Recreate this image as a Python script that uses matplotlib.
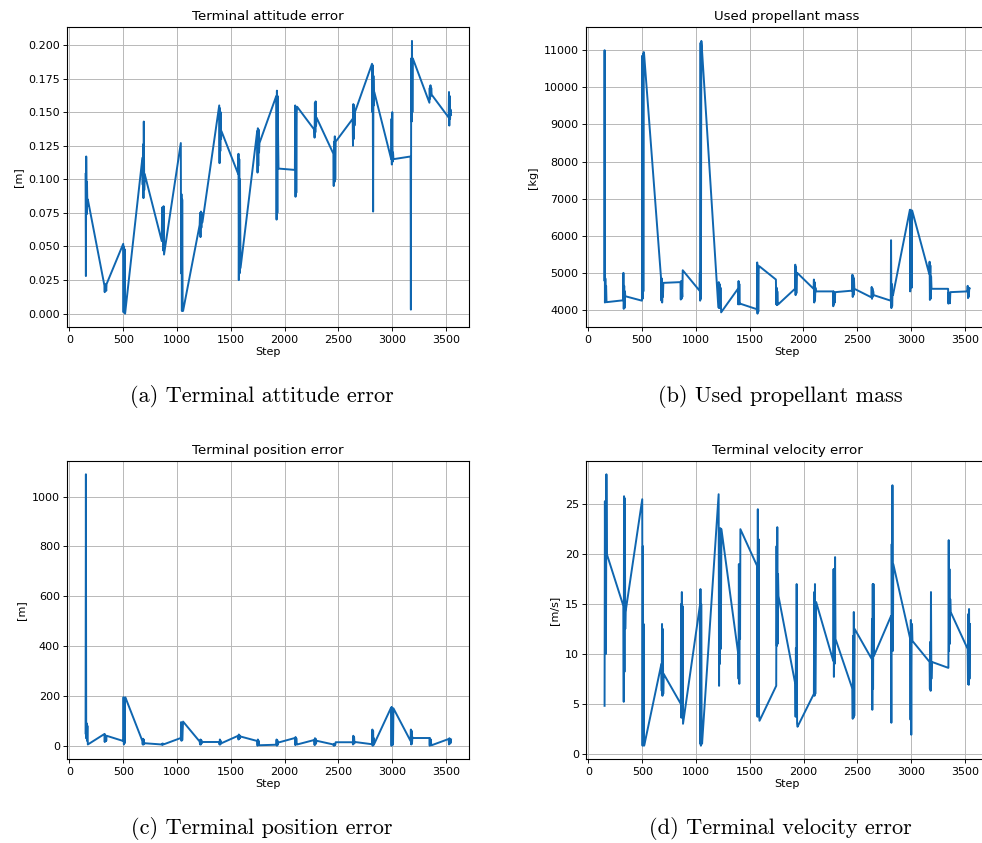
import matplotlib
matplotlib.use('Agg')
import matplotlib.pyplot as plt

# steps logged for each evaluation burst (20 bursts, 7 entries each)
steps = [
    [150, 153, 156, 160, 163, 167, 171],
    [325, 328, 331, 335, 338, 342, 345],
    [500, 503, 506, 510, 513, 517, 520],
    [678, 681, 684, 688, 691, 695, 699],
    [858, 861, 864, 868, 871, 875, 879],
    [1035, 1038, 1041, 1045, 1048, 1052, 1056],
    [1210, 1214, 1218, 1222, 1226, 1230, 1236],
    [1392, 1395, 1398, 1402, 1405, 1409, 1412],
    [1568, 1571, 1574, 1578, 1581, 1585, 1590],
    [1745, 1748, 1751, 1755, 1758, 1762, 1766],
    [1922, 1925, 1928, 1932, 1935, 1939, 1943],
    [2095, 2098, 2101, 2105, 2108, 2112, 2116],
    [2275, 2278, 2281, 2285, 2288, 2292, 2296],
    [2453, 2456, 2459, 2463, 2466, 2470, 2474],
    [2632, 2635, 2638, 2642, 2645, 2649, 2653],
    [2812, 2815, 2818, 2822, 2825, 2829, 2833],
    [2990, 2993, 2996, 3000, 3003, 3007, 3011],
    [3170, 3173, 3176, 3180, 3183, 3187, 3191],
    [3345, 3348, 3351, 3355, 3358, 3362, 3366],
    [3524, 3527, 3530, 3534, 3537, 3541, 3546],
]

attitude = [
    [0.104, 0.028, 0.117, 0.074, 0.098, 0.080, 0.085],
    [0.021, 0.016, 0.022, 0.018, 0.020, 0.017, 0.022],
    [0.052, 0.001, 0.050, 0.003, 0.048, 0.000, 0.002],
    [0.116, 0.096, 0.126, 0.086, 0.143, 0.092, 0.104],
    [0.054, 0.079, 0.056, 0.078, 0.047, 0.080, 0.044],
    [0.127, 0.030, 0.089, 0.002, 0.085, 0.005, 0.002],
    [0.066, 0.075, 0.057, 0.076, 0.064, 0.075, 0.068],
    [0.155, 0.112, 0.153, 0.121, 0.150, 0.130, 0.136],
    [0.104, 0.119, 0.025, 0.115, 0.030, 0.100, 0.034],
    [0.136, 0.105, 0.138, 0.110, 0.137, 0.120, 0.127],
    [0.162, 0.070, 0.166, 0.075, 0.162, 0.130, 0.108],
    [0.107, 0.155, 0.087, 0.153, 0.090, 0.150, 0.154],
    [0.137, 0.131, 0.157, 0.135, 0.158, 0.140, 0.146],
    [0.119, 0.095, 0.128, 0.098, 0.132, 0.100, 0.128],
    [0.145, 0.125, 0.156, 0.130, 0.155, 0.140, 0.150],
    [0.186, 0.150, 0.185, 0.076, 0.177, 0.155, 0.165],
    [0.115, 0.145, 0.111, 0.150, 0.113, 0.120, 0.115],
    [0.117, 0.003, 0.190, 0.143, 0.203, 0.150, 0.190],
    [0.157, 0.168, 0.160, 0.170, 0.162, 0.168, 0.163],
    [0.146, 0.165, 0.140, 0.162, 0.145, 0.152, 0.148],
]

propellant = [
    [4800, 11000, 4200, 4850, 4300, 4650, 4210],
    [4260, 5000, 4030, 4650, 4050, 4500, 4370],
    [4250, 10850, 4300, 10900, 4500, 10950, 10900],
    [4840, 4250, 4850, 4200, 4700, 4350, 4730],
    [4750, 4280, 4780, 4300, 4600, 4350, 5070],
    [4520, 5000, 4250, 11200, 4300, 11250, 11100],
    [4070, 4750, 4050, 4700, 4100, 4600, 3935],
    [4570, 4150, 4780, 4200, 4700, 4150, 4170],
    [4020, 5280, 3900, 5200, 3950, 5100, 5180],
    [4820, 4150, 4600, 4130, 4500, 4200, 4150],
    [4570, 5220, 4400, 5150, 4450, 4900, 5000],
    [4570, 4820, 4200, 4750, 4250, 4600, 4500],
    [4500, 4100, 4500, 4150, 4450, 4200, 4480],
    [4520, 4950, 4350, 4900, 4400, 4850, 4570],
    [4340, 4620, 4300, 4580, 4350, 4500, 4400],
    [4250, 5880, 4050, 4700, 4100, 4500, 4400],
    [6700, 4500, 6700, 4800, 6650, 4600, 6680],
    [4970, 5300, 4270, 5200, 4300, 4900, 4570],
    [4570, 4170, 4470, 4200, 4450, 4180, 4480],
    [4500, 4650, 4320, 4600, 4350, 4550, 4580],
]

position = [
    [50, 1090, 30, 90, 20, 80, 5],
    [47, 15, 45, 18, 40, 20, 40],
    [19, 195, 5, 190, 10, 192, 194],
    [19, 5, 28, 5, 25, 8, 10],
    [5, 8, 4, 9, 5, 7, 6],
    [31, 95, 20, 90, 22, 60, 97],
    [17, 5, 25, 5, 22, 10, 15],
    [15, 5, 25, 5, 20, 10, 10],
    [40, 25, 45, 28, 42, 30, 37],
    [19, 0, 25, 2, 20, 3, 2],
    [4, 25, 0, 22, 3, 15, 13],
    [31, 3, 35, 5, 30, 8, 5],
    [23, 3, 30, 5, 28, 10, 20],
    [5, 0, 8, 1, 7, 3, 14],
    [14, 5, 40, 8, 35, 10, 15],
    [6, 65, 0, 60, 2, 30, 8],
    [154, 0, 155, 2, 150, 5, 150],
    [19, 65, 5, 60, 8, 35, 31],
    [31, 0, 30, 2, 25, 5, 2],
    [27, 5, 30, 8, 28, 10, 25],
]

velocity = [
    [4.8, 25.3, 13.5, 25.0, 10.0, 28.0, 20.0],
    [14.8, 5.2, 25.8, 8.2, 25.6, 12.5, 14.2],
    [25.5, 0.8, 20.8, 1.0, 13.0, 0.8, 0.9],
    [9.0, 6.3, 13.0, 5.8, 12.5, 6.0, 8.0],
    [5.0, 15.0, 3.6, 16.2, 4.0, 14.8, 3.0],
    [14.8, 1.0, 16.5, 0.8, 15.0, 3.2, 1.0],
    [26.0, 6.8, 22.0, 9.0, 22.6, 10.5, 22.5],
    [10.0, 7.5, 19.0, 7.0, 17.0, 11.5, 22.5],
    [18.8, 3.7, 24.5, 3.8, 21.5, 4.0, 3.3],
    [6.8, 20.8, 10.8, 22.7, 11.0, 18.0, 15.8],
    [7.0, 3.7, 10.6, 4.0, 17.0, 3.0, 2.7],
    [6.0, 16.2, 5.8, 17.0, 6.0, 11.2, 15.2],
    [9.3, 18.5, 7.7, 18.5, 9.0, 19.7, 11.5],
    [6.5, 3.5, 11.8, 3.6, 14.2, 3.8, 12.5],
    [9.5, 13.5, 4.4, 17.0, 6.5, 17.0, 9.8],
    [13.8, 3.1, 21.0, 12.2, 26.9, 10.3, 19.0],
    [11.5, 3.4, 13.4, 1.9, 11.0, 13.0, 11.3],
    [9.2, 6.5, 11.2, 6.3, 16.2, 7.5, 9.2],
    [8.6, 21.4, 10.3, 18.5, 11.0, 15.5, 14.2],
    [10.5, 7.0, 14.0, 6.9, 14.5, 7.5, 13.0],
]

titles = ['Terminal attitude error', 'Used propellant mass',
          'Terminal position error', 'Terminal velocity error']
ylabels = ['[m]', '[kg]', '[m]', '[m/s]']
captions = ['(a) Terminal attitude error', '(b) Used propellant mass',
            '(c) Terminal position error', '(d) Terminal velocity error']
series = [attitude, propellant, position, velocity]

W, H = 982, 843
fig = plt.figure(figsize=(W / 100, H / 100), dpi=100)

# axes boxes in pixels: left, top, right, bottom
boxes = [(67.3, 27.3, 469.3, 327.3), (586.0, 27.3, 988.0, 327.3),
         (67.3, 460.7, 469.3, 759.3), (586.3, 460.7, 988.3, 759.3)]
cap_pos = [(262, 396), (780, 396), (262, 828), (780, 828)]

flat_steps = [s for grp in steps for s in grp]
color = '#0f66b0'

for i in range(4):
    l, t, r, b = boxes[i]
    ax = fig.add_axes([l / W, 1 - b / H, (r - l) / W, (b - t) / H])
    vals = [v for grp in series[i] for v in grp]
    ax.plot(flat_steps, vals, color=color, lw=1.4)
    ax.set_xticks([0, 500, 1000, 1500, 2000, 2500, 3000, 3500])
    ax.grid(True, color='#b8b8b8', lw=0.7)
    ax.set_axisbelow(True)
    ax.tick_params(labelsize=8, length=2.8, width=0.65, pad=2.5)
    for sp in ax.spines.values():
        sp.set_linewidth(0.8)
    ax.set_title(titles[i], fontsize=9.6, pad=5)
    ax.set_xlabel('Step', fontsize=8, labelpad=2)
    ax.set_ylabel(ylabels[i], fontsize=8, labelpad=4)
    cx, cy = cap_pos[i]
    fig.text(cx / W, 1 - cy / H, captions[i], family='cmr10', fontsize=16,
             ha='center', va='center')

fig.savefig('out.png', dpi=100)
